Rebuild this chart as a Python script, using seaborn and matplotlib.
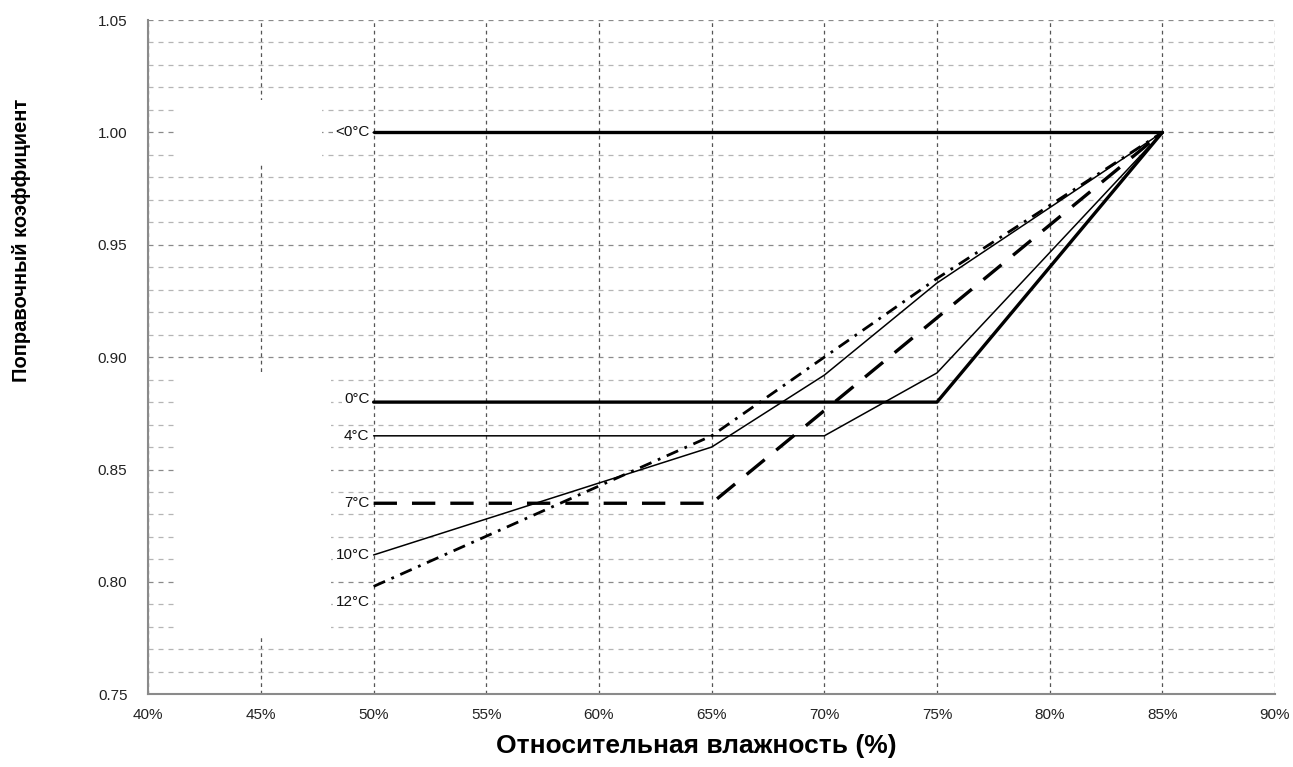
import numpy as np
import pandas as pd
import seaborn as sns
import matplotlib.pyplot as plt
from matplotlib.patches import Rectangle
from matplotlib.ticker import FuncFormatter, MultipleLocator

# Relative humidity (%) and correction factor for each temperature
labels = ['<0°C', '0°C', '4°C', '7°C', '10°C', '12°C']
hum_lt0 = [50, 85]
k_lt0 = [1.0, 1.0]
hum_0 = [50, 75, 85]
k_0 = [0.88, 0.88, 1.0]
hum_4 = [50, 70, 75, 85]
k_4 = [0.865, 0.865, 0.893, 1.0]
hum_7 = [50, 65, 85]
k_7 = [0.835, 0.835, 1.0]
hum_10 = [50, 65, 70, 75, 85]
k_10 = [0.812, 0.860, 0.892, 0.933, 1.0]
hum_12 = [50, 65, 70, 75, 85]
k_12 = [0.798, 0.865, 0.900, 0.935, 1.0]

series = [(hum_lt0, k_lt0), (hum_0, k_0), (hum_4, k_4),
          (hum_7, k_7), (hum_10, k_10), (hum_12, k_12)]
styles = [dict(lw=2.4, linestyle='-'),
          dict(lw=2.4, linestyle='-'),
          dict(lw=1.1, linestyle='-'),
          dict(lw=2.4, linestyle=(0, (7, 4.5))),
          dict(lw=1.1, linestyle='-'),
          dict(lw=2.0, linestyle=(0, (4.5, 2.5, 1, 2.5)))]
label_offsets = [0, 2, 0, 0, 0, -11]  # points, vertical shift of labels

sns.set_style("white")
plt.rcParams['font.family'] = ['Liberation Sans', 'DejaVu Sans']

W, H = 1293, 767
fig = plt.figure(figsize=(W / 100, H / 100), dpi=100)
x0, x1, y0, y1 = 148.3, 1275, 20, 694.3
ax = fig.add_axes([x0 / W, 1 - y1 / H, (x1 - x0) / W, (y1 - y0) / H])

for (hx, ky), st in zip(series, styles):
    df = pd.DataFrame({'hum': hx, 'k': ky})
    sns.lineplot(data=df, x='hum', y='k', color='black', ax=ax, zorder=3, **st)

ax.set_xlim(40, 90)
ax.set_ylim(0.75, 1.05)
ax.set_xticks(range(40, 91, 5))
ax.set_yticks(np.arange(0.75, 1.051, 0.05))
ax.yaxis.set_minor_locator(MultipleLocator(0.01))
ax.xaxis.set_major_formatter(FuncFormatter(lambda v, p: f'{v:.0f}%'))
ax.yaxis.set_major_formatter(FuncFormatter(lambda v, p: f'{v:.2f}'))
ax.set_xlabel('')
ax.set_ylabel('')

ax.set_axisbelow(True)
ax.xaxis.grid(True, which='major', linestyle=(0, (3, 3)), color='#555555', lw=0.9)
ax.yaxis.grid(True, which='major', linestyle=(0, (4, 4)), color='#8a8a8a', lw=0.9)
ax.yaxis.grid(True, which='minor', linestyle=(0, (4, 4)), color='#b5b5b5', lw=0.9)

for s in ['top', 'right']:
    ax.spines[s].set_visible(False)
for s in ['left', 'bottom']:
    ax.spines[s].set_color('#8a8a8a')
    ax.spines[s].set_linewidth(1.5)
ax.tick_params(axis='both', which='major', direction='inout', length=8, width=1,
               color='#8a8a8a', labelsize=11, labelcolor='#222222')
ax.tick_params(axis='x', pad=6)
ax.tick_params(axis='y', pad=11)
ax.tick_params(axis='y', which='minor', length=0)

# white blanks behind the label areas
ax.add_patch(Rectangle((41.3, 0.9854), 6.4, 0.029, fc='white', ec='none', zorder=1))
ax.add_patch(Rectangle((41.3, 0.7754), 6.8, 0.1173, fc='white', ec='none', zorder=1))

for lab, (hx, ky), dy in zip(labels, series, label_offsets):
    ax.annotate(lab, xy=(hx[0], ky[0]), xytext=(-3, dy), textcoords='offset points',
                ha='right', va='center', fontsize=11, color='#111111', zorder=4,
                bbox=dict(fc='white', ec='none', pad=1.5))

fig.text(696 / W, 1 - 746 / H, 'Относительная влажность (%)', ha='center', va='center',
         fontsize=19, fontweight='bold', color='black')
fig.text(22 / W, 1 - 240 / H, 'Поправочный коэффициент', ha='center', va='center',
         rotation=90, fontsize=14.5, fontweight='bold', color='black')

fig.savefig('out.png', dpi=100)
